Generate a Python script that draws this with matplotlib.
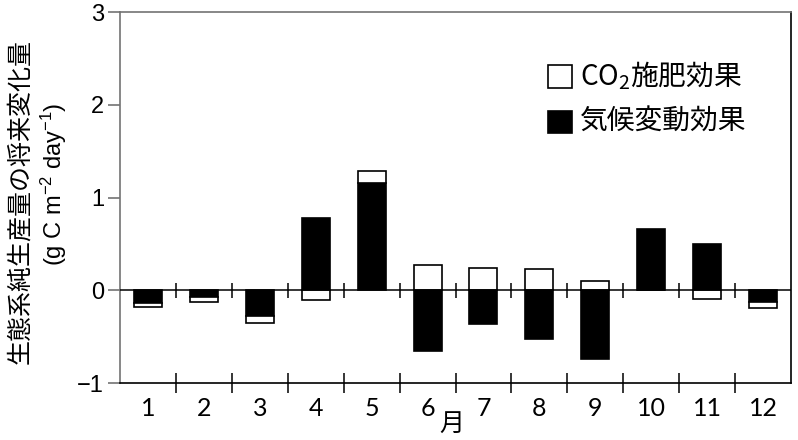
# -*- coding: utf-8 -*-
# 月別の生態系純生産量の将来変化量（CO2施肥効果と気候変動効果）
import numpy as np
import matplotlib
matplotlib.use('Agg')
import matplotlib.pyplot as plt
from matplotlib.patches import Rectangle
from matplotlib.ticker import FixedLocator

plt.rcParams['font.family'] = ['Noto Sans CJK JP', 'DejaVu Sans']
plt.rcParams['mathtext.default'] = 'regular'

months = np.arange(1, 13)
month_labels = [str(m) for m in months]
climate = [-0.14, -0.07, -0.28, 0.78, 1.16, -0.65, -0.36, -0.525, -0.74, 0.66, 0.50, -0.13]
co2 = [-0.04, -0.055, -0.07, -0.10, 0.13, 0.27, 0.24, 0.23, 0.10, 0.0, -0.09, -0.06]
yticks = [-1, 0, 1, 2, 3]

clim = np.array(climate)
c2 = np.array(co2)
# 同符号なら気候変動効果の先に積む、異符号なら0から
co2_bottom = np.where(np.sign(clim) == np.sign(c2), clim, 0.0)

W, H = 798, 440
fig = plt.figure(figsize=(W / 100, H / 100), dpi=100)
ax = fig.add_axes([120 / W, 1 - 383 / H, (791 - 120) / W, (383 - 12) / H])

ax.bar(months, climate, width=0.5, color='black', edgecolor='black', lw=1.2, zorder=2)
ax.bar(months, c2, bottom=co2_bottom, width=0.5, color='white', edgecolor='black',
       lw=1.2, zorder=3)

bounds = months[:-1] + 0.5
ax.axhline(0, color='black', lw=1.1, zorder=4)
ax.vlines(bounds, -0.08, 0.08, color='black', lw=1.1, zorder=4)

ax.set_xlim(0.5, 12.5)
ax.set_ylim(-1, 3)

ax.set_yticks(yticks)
ax.set_yticklabels(['\u22121', '0', '1', '2', '3'], family='Liberation Sans', fontsize=17)
ax.tick_params(axis='y', direction='out', length=8.6, width=1.2, color='0.45', pad=3)

ax.set_xticks(months)
ax.set_xticklabels(month_labels, family='Lato', fontsize=18)
ax.xaxis.set_minor_locator(FixedLocator(bounds))
ax.tick_params(axis='x', which='major', length=0, pad=10)
ax.tick_params(axis='x', which='minor', direction='inout', length=14, width=1.1, color='black')

for side in ['top', 'left']:
    ax.spines[side].set_color('0.45')
    ax.spines[side].set_linewidth(1.2)
for side in ['right', 'bottom']:
    ax.spines[side].set_color('black')
    ax.spines[side].set_linewidth(1.2)

# 軸ラベル
fig.text(452 / W, 1 - 424 / H, '月', ha='center', va='center', fontsize=18)
fig.text(20 / W, 1 - 201 / H, '生態系純生産量の将来変化量', rotation=90,
         ha='center', va='center', fontsize=18)
fig.text(54 / W, 1 - 184 / H, '(g C m$^{-2}$ day$^{-1}$)', rotation=90,
         ha='center', va='center', fontsize=17, family='Liberation Sans')

# 凡例
fig.patches.append(Rectangle((548 / W, 1 - 88 / H), 24 / W, 23 / H, transform=fig.transFigure,
                             facecolor='white', edgecolor='black', lw=1.2))
fig.patches.append(Rectangle((548 / W, 1 - 133 / H), 24 / W, 22 / H, transform=fig.transFigure,
                             facecolor='black', edgecolor='black', lw=1.2))
fig.text(580 / W, 1 - 76 / H, 'CO$_2$施肥効果', ha='left', va='center', fontsize=20)
fig.text(580 / W, 1 - 122 / H, '気候変動効果', ha='left', va='center', fontsize=20)

fig.savefig('out.png', dpi=100)
